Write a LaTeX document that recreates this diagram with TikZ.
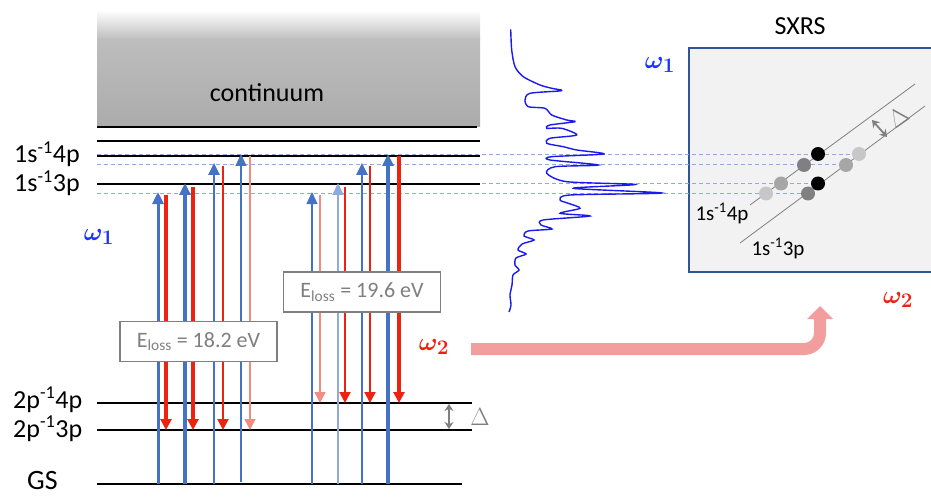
\documentclass[tikz,border=0pt]{standalone}
\usepackage{fontspec}
\setmainfont{Carlito}
\usetikzlibrary{arrows.meta}
\definecolor{oblue}{HTML}{4472C4}
\definecolor{paleblue}{HTML}{8FAADC}
\definecolor{ored}{HTML}{EE2211}
\definecolor{lred}{HTML}{F28B82}
\definecolor{pinkc}{HTML}{F29E9E}
\definecolor{specblue}{HTML}{1A1AF0}
\definecolor{omegablue}{HTML}{1A33FF}
\definecolor{boxfill}{HTML}{F2F2F2}
\definecolor{boxedge}{HTML}{2F5597}
\definecolor{gtext}{HTML}{7F7F7F}
\definecolor{contgray}{HTML}{BDBDBD}
\definecolor{contdark}{HTML}{ABABAB}
\begin{document}
\begin{tikzpicture}[x=1pt,y=-1pt,
  levelline/.style={line width=1.8pt},
  dashref/.style={paleblue, line width=0.9pt, dash pattern=on 4pt off 3pt},
  upb/.style={oblue, -{Triangle[width=11pt,length=12pt]}},
  dnr/.style={ored, -{Triangle[width=11pt,length=11pt]}},
  lbl/.style={font=\fontsize{26}{30}\selectfont, inner sep=0pt},
  slbl/.style={font=\fontsize{21}{25}\selectfont, inner sep=0pt},
  lossbox/.style={draw=gtext, line width=1.5pt, fill=white, text=gtext, font=\fontsize{22}{26}\selectfont, minimum width=157pt, minimum height=40pt, inner sep=0pt},
  omlbl/.style={font=\fontsize{28}{30}\selectfont\boldmath, inner sep=0pt},
  dot/.style={radius=7pt},
  gdarrow/.style={gtext, line width=2pt, {Stealth[width=9pt,length=7pt]}-{Stealth[width=9pt,length=7pt]}}
]
\useasboundingbox (0,0) rectangle (931,497);

% continuum
\shade[top color=white, bottom color=contgray] (97,10) rectangle (480,40);
\shade[top color=contgray, bottom color=contdark] (97,40) rectangle (480,127);
\node[font=\fontsize{26}{30}\selectfont, anchor=base] (cont) at (267,102) {continuum};

% SXRS box
\fill[boxfill] (689,48) rectangle (931,272);
\draw[boxedge, line width=1.5pt] (932,48) -- (689,48) -- (689,272) -- (932,272);
\node[lbl, anchor=base] (sxrs) at (800,35) {SXRS};

% dashed reference lines
\draw[dashref] (97,154) -- (859,154);
\draw[dashref] (97,164.5) -- (846,164.5);
\draw[dashref] (97,183.5) -- (818,183.5);
\draw[dashref] (97,193.5) -- (808,193.5);

% level lines
\draw[levelline] (97,127) -- (477,127);
\draw[levelline] (97,141) -- (480,141);
\draw[levelline] (97,156) -- (480,156);
\draw[levelline] (97,184) -- (480,184);
\draw[levelline] (97,403) -- (472,403);
\draw[levelline] (97,430) -- (472,430);
\draw[levelline] (97,484) -- (462,484);

% diagonal lines in SXRS
\draw[gray, line width=0.8pt] (750,205) -- (915,84);
\draw[gray, line width=0.8pt] (740,243) -- (925,106);
\fill[black] (818,154) circle[dot];
\fill[black!50] (804,165) circle[dot];
\fill[black!35] (781,183.5) circle[dot];
\fill[black!22] (766,193.5) circle[dot];
\fill[black!22] (859,154) circle[dot];
\fill[black!35] (846,165) circle[dot];
\fill[black] (818,183.5) circle[dot];
\fill[black!50] (808,193.5) circle[dot];
\draw[gdarrow, line width=1.8pt] (872,120) -- (887,137);
\node[gtext, rotate=35, font=\fontsize{26}{30}\selectfont, inner sep=0pt] (dsx) at (898,117) {$\Delta$};
\node[slbl, anchor=base] (s14) at (722,220) {1s\textsuperscript{-1}4p};
\node[slbl, anchor=base] (s13) at (778,255) {1s\textsuperscript{-1}3p};

% spectrum
\draw[specblue, line width=1.4pt, smooth, tension=0.45] plot coordinates {
(510.7,29.3) (511.7,50) (515,66.7) (523.3,76.7) (540,85) (551.7,88.3) (561.7,90.7)
(530,93.3) (525,100) (528.3,106.7) (545,108.3) (551.7,115) (566.7,120) (575,121.7)
(550,125) (546.7,128.3) (561.7,128.3) (576.7,135) (550,138.3) (546.7,143.3) (563.3,146.7)
(576.7,150) (604,154) (551.7,156.7) (550,160) (598.3,165) (555,166.7) (546.7,173.3)
(566.7,181.7) (635,184.5) (573.3,188.3) (661.7,193) (570,195) (560,200) (568.3,203.3)
(580,208.3) (560,213.3) (590,216) (543,220) (541,225) (552,229) (528,231) (524,236)
(534,240) (522,244) (518,250) (526,254) (516,258) (515,265) (519,270) (513,275)
(512,285) (510,295) (511,305) (509,312)};

% group 1 arrows (to 2p-1 3p)
\draw[upb, line width=3pt] (158,484) -- (158,192);
\draw[dnr, line width=3.5pt] (166,195) -- (166,430);
\draw[upb, line width=4pt] (185,484) -- (185,183);
\draw[dnr, line width=4pt] (193,187) -- (193,430);
\draw[upb, line width=2.5pt] (214,484) -- (214,163);
\draw[dnr, line width=2.2pt] (223,166) -- (223,430);
\draw[upb, line width=1.3pt] (241,482) -- (241,154);
\draw[dnr, line width=1.5pt, lred] (250,156) -- (250,430);

% group 2 arrows (to 2p-1 4p)
\draw[upb, line width=1.3pt] (312,484) -- (312,192);
\draw[dnr, line width=1.5pt, lred] (320,195) -- (320,403);
\draw[upb, line width=2pt, paleblue] (338,484) -- (338,183);
\draw[dnr, line width=2pt] (345,187) -- (345,403);
\draw[upb, line width=2.5pt] (362,484) -- (362,163);
\draw[dnr, line width=2.2pt] (370,166) -- (370,403);
\draw[upb, line width=4pt] (388,484) -- (388,154);
\draw[dnr, line width=4pt] (399,156) -- (399,403);

% loss boxes
\node[lossbox] (loss1) at (198.5,341.5) {E\textsubscript{loss} = 18.2 eV};
\node[lossbox] (loss2) at (362,292) {E\textsubscript{loss} = 19.6 eV};

% left Delta
\draw[gdarrow] (449,404) -- (449,429);
\node[gtext, font=\fontsize{27}{30}\selectfont, inner sep=0pt] (dl) at (480,417) {$\Delta$};

% level labels
\node[lbl, anchor=base west] (l14) at (14,163) {1s\textsuperscript{-1}4p};
\node[lbl, anchor=base west] (l13) at (14,192) {1s\textsuperscript{-1}3p};
\node[lbl, anchor=base west] (m14) at (13,408) {2p\textsuperscript{-1}4p};
\node[lbl, anchor=base west] (m13) at (13,437) {2p\textsuperscript{-1}3p};
\node[font=\fontsize{28}{30}\selectfont, inner sep=0pt, anchor=base west] (gs) at (27,489) {GS};

% omega labels
\node[omlbl, omegablue] (w1a) at (99,237) {$\omega_1$};
\node[omlbl, ored] (w2a) at (434,347) {$\omega_2$};
\node[omlbl, omegablue] (w1b) at (660,65) {$\omega_1$};
\node[omlbl, ored] (w2b) at (898,300) {$\omega_2$};

% pink flow arrow
\draw[pinkc, line width=12pt, rounded corners=16pt] (471,349) -- (820,349) -- (820,318);
\fill[pinkc] (807,319) -- (820,306) -- (833,319) -- cycle;
\end{tikzpicture}
\end{document}
